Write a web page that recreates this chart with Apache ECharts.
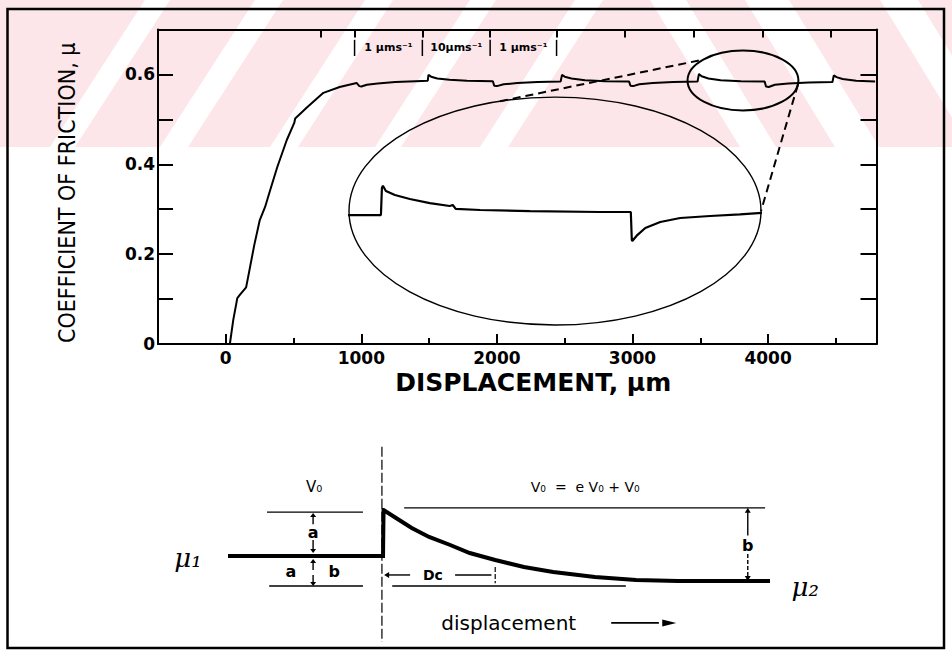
<!DOCTYPE html>
<html>
<head>
<meta charset="utf-8">
<title>Coefficient of friction vs displacement</title>
<script src="https://cdn.jsdelivr.net/npm/echarts@6/dist/echarts.min.js"></script>
<style>
  html, body { margin: 0; padding: 0; background: #fff; }
  #chart { width: 952px; height: 656px; }
</style>
</head>
<body>
<div id="chart"></div>
<script>
// Friction record: run-in followed by velocity steps (displacement in µm)
const displacement = [30, 55, 85, 105, 150, 175, 210, 250, 290, 330, 380, 450, 505, 512, 600, 720, 840, 965,
  985, 1000, 1040, 1120, 1250, 1400, 1490,
  1495, 1515, 1560, 1650, 1780, 1970,
  1980, 2000, 2050, 2150, 2300, 2470,
  2480, 2500, 2550, 2650, 2800, 2975,
  2985, 3005, 3050, 3150, 3300, 3480,
  3490, 3510, 3560, 3650, 3800, 3975,
  3985, 4005, 4050, 4150, 4300, 4475,
  4485, 4505, 4550, 4650, 4790];
const friction = [0.000, 0.053, 0.102, 0.110, 0.126, 0.165, 0.220, 0.275, 0.305, 0.345, 0.394, 0.454, 0.492, 0.502, 0.527, 0.559, 0.572, 0.581,
  0.574, 0.573, 0.577, 0.580, 0.583, 0.585, 0.586,
  0.599, 0.595, 0.591, 0.588, 0.586, 0.585,
  0.575, 0.574, 0.578, 0.581, 0.583, 0.584,
  0.599, 0.595, 0.591, 0.587, 0.585, 0.584,
  0.575, 0.574, 0.578, 0.581, 0.583, 0.584,
  0.601, 0.596, 0.591, 0.587, 0.585, 0.584,
  0.573, 0.572, 0.577, 0.580, 0.582, 0.583,
  0.598, 0.594, 0.590, 0.586, 0.584];

// Magnified segment: 1 -> 10 -> 1 µm/s steps
const zoomDisplacement = [3430, 3496, 3498, 3500, 3506, 3524, 3554, 3594, 3634, 3640, 3646, 3695, 3795, 3935, 3997, 3999, 4000, 4010, 4026, 4056, 4096, 4156, 4216, 4260];
const zoomFriction = [0.581, 0.581, 0.5986, 0.600, 0.5966, 0.594, 0.5914, 0.5888, 0.5869, 0.5875, 0.585, 0.5843, 0.5836, 0.583, 0.583, 0.5648, 0.5642, 0.568, 0.5726, 0.5765, 0.5791, 0.5804, 0.5814, 0.5824];

// Schematic response to a velocity step (arbitrary units: mu2 = 0, peak = 1)
const schemeX = [0, 28.6, 28.7, 31.0, 33.9, 37.1, 41.0, 44.6, 49.3, 54.6, 60.0, 67.7, 75.3, 83.0, 100];
const schemeMu = [0.352, 0.352, 1.0, 0.887, 0.746, 0.620, 0.507, 0.394, 0.296, 0.197, 0.127, 0.056, 0.014, 0, 0];

// Axis ticks and labels
const xTickValues = [0, 1000, 2000, 3000, 4000];
const xTickLabels = ['0', '1000', '2000', '3000', '4000'];
const xMinorTicks = [500, 1500, 2500, 3500, 4500];
const xTopTicks = [700, 950, 1450, 1950, 2440, 2940, 3450, 3960, 4460];
const yTickValues = [0, 0.2, 0.4, 0.6];
const yTickLabels = ['0', '0.2', '0.4', '0.6'];

// Sliding velocity intervals marked above the record
const velocityBounds = [950, 1450, 1950, 2440];
const velocityLabels = ['1 µms⁻¹', '10µms⁻¹', '1 µms⁻¹'];

const BLACK = '#000';
const WIDE = 'DejaVu Sans';
const NARROW = "'Liberation Sans Narrow', 'DejaVu Sans Condensed', 'Liberation Sans', sans-serif";

const chart = echarts.init(document.getElementById('chart'), null, { renderer: 'svg' });

const hiddenAxis = { show: false, axisLine: { show: false }, axisTick: { show: false }, axisLabel: { show: false }, splitLine: { show: false } };
const tickLabelStyle = { color: BLACK, fontFamily: WIDE, fontWeight: 'bold', fontSize: 17 };

chart.setOption({
  animation: false,
  backgroundColor: '#fff',
  grid: [
    { left: 158, top: 29.5, width: 718.5, height: 314.5 },
    { left: 348, top: 147.3, width: 414, height: 130.9 },
    { left: 228, top: 510, width: 542, height: 71 }
  ],
  xAxis: [
    {
      gridIndex: 0, type: 'value', position: 'bottom', min: -500, max: 4800, interval: 500,
      axisLine: { show: true, onZero: false, lineStyle: { color: BLACK, width: 2 } },
      axisTick: { show: true, inside: true, length: 10, customValues: xTickValues, lineStyle: { color: BLACK, width: 2 } },
      axisLabel: {
        show: true, customValues: xTickValues, margin: 5,
        formatter: v => xTickLabels[xTickValues.indexOf(v)], ...tickLabelStyle
      },
      splitLine: { show: false },
      name: 'DISPLACEMENT, µm', nameLocation: 'middle', nameGap: 26,
      nameTextStyle: { color: BLACK, fontFamily: WIDE, fontWeight: 'bold', fontSize: 25, padding: [0, 0, 0, 32] }
    },
    {
      gridIndex: 0, type: 'value', position: 'bottom', min: -500, max: 4800, interval: 500,
      axisLine: { show: false, onZero: false },
      axisTick: { show: true, inside: true, length: 6, customValues: xMinorTicks, lineStyle: { color: BLACK, width: 2 } },
      axisLabel: { show: false }, splitLine: { show: false }
    },
    {
      gridIndex: 0, type: 'value', position: 'top', min: -500, max: 4800, interval: 500,
      axisLine: { show: true, onZero: false, lineStyle: { color: BLACK, width: 2 } },
      axisTick: { show: true, inside: true, length: 8, customValues: xTopTicks, lineStyle: { color: BLACK, width: 2 } },
      axisLabel: { show: false }, splitLine: { show: false }
    },
    { gridIndex: 1, type: 'value', min: 3430, max: 4260, ...hiddenAxis },
    { gridIndex: 2, type: 'value', min: 0, max: 100, ...hiddenAxis }
  ],
  yAxis: [
    {
      gridIndex: 0, type: 'value', position: 'left', min: 0, max: 0.7, interval: 0.1,
      axisLine: { show: true, onZero: false, lineStyle: { color: BLACK, width: 2 } },
      axisTick: { show: true, inside: true, length: 15, lineStyle: { color: BLACK, width: 2 } },
      axisLabel: {
        show: true, customValues: yTickValues, margin: 3,
        formatter: v => yTickLabels[yTickValues.findIndex(t => Math.abs(t - v) < 1e-6)], ...tickLabelStyle
      },
      splitLine: { show: false },
      name: 'COEFFICIENT OF FRICTION, µ', nameLocation: 'middle', nameRotate: 90, nameGap: 80,
      nameTextStyle: { color: BLACK, fontFamily: NARROW, fontSize: 23, padding: [0, 12, 0, 0] }
    },
    {
      gridIndex: 0, type: 'value', position: 'right', min: 0, max: 0.7, interval: 0.1,
      axisLine: { show: true, onZero: false, lineStyle: { color: BLACK, width: 2 } },
      axisTick: { show: true, inside: true, length: 16, lineStyle: { color: BLACK, width: 2 } },
      axisLabel: { show: false }, splitLine: { show: false }
    },
    { gridIndex: 1, type: 'value', min: 0.54, max: 0.625, ...hiddenAxis },
    { gridIndex: 2, type: 'value', min: 0, max: 1, ...hiddenAxis }
  ],
  series: [
    {
      name: 'friction', type: 'line', xAxisIndex: 0, yAxisIndex: 0, symbol: 'none', z: 5,
      data: displacement.map((d, i) => [d, friction[i]]),
      lineStyle: { color: BLACK, width: 2 }
    },
    {
      name: 'magnified', type: 'line', xAxisIndex: 3, yAxisIndex: 2, symbol: 'none', z: 5,
      data: zoomDisplacement.map((d, i) => [d, zoomFriction[i]]),
      lineStyle: { color: BLACK, width: 2.2 }
    },
    {
      name: 'schematic', type: 'line', xAxisIndex: 4, yAxisIndex: 3, symbol: 'none', z: 5,
      data: schemeX.map((d, i) => [d, schemeMu[i]]),
      lineStyle: { color: BLACK, width: 4, join: 'miter' }
    }
  ]
});

// ---- annotations positioned through the axes ----
const MAIN = { xAxisIndex: 0, yAxisIndex: 0 };
const INSET = { xAxisIndex: 3, yAxisIndex: 2 };
const SCH = { xAxisIndex: 4, yAxisIndex: 3 };
const at = (axes, x, y) => chart.convertToPixel(axes, [x, y]);

const g = [];
const line = (p, q, w, dash) => g.push({
  type: 'line', silent: true, z: 6,
  shape: { x1: p[0], y1: p[1], x2: q[0], y2: q[1] },
  style: { stroke: BLACK, lineWidth: w || 1.5, lineDash: dash || null }
});
const text = (p, str, font, opts) => g.push(Object.assign({
  type: 'text', silent: true, z: 6, x: p[0], y: p[1],
  style: { text: str, font: font, fill: BLACK, align: 'center', verticalAlign: 'middle', textAlign: 'center', textVerticalAlign: 'middle' }
}, opts || {}));
const head = (tip, dir, len, half) => {
  // filled arrow head; dir: 'up' | 'down' | 'left' | 'right'
  const [x, y] = tip;
  const pts = {
    up: [[x, y], [x - half, y + len], [x + half, y + len]],
    down: [[x, y], [x - half, y - len], [x + half, y - len]],
    left: [[x, y], [x + len, y - half], [x + len, y + half]],
    right: [[x, y], [x - len, y - half], [x - len, y + half]]
  }[dir];
  g.push({ type: 'polygon', silent: true, z: 6, shape: { points: pts }, style: { fill: BLACK } });
};
const ellipse = (axes, cx, cy, rx, ry, w) => {
  const c = at(axes, cx, cy), e = at(axes, cx + rx, cy + ry);
  g.push({ type: 'ellipse', silent: true, z: 6,
    shape: { cx: c[0], cy: c[1], rx: Math.abs(e[0] - c[0]), ry: Math.abs(e[1] - c[1]) },
    style: { fill: 'none', stroke: BLACK, lineWidth: w } });
  return { cx: c[0], cy: c[1], rx: Math.abs(e[0] - c[0]), ry: Math.abs(e[1] - c[1]) };
};
const onEllipse = (el, deg) => [el.cx + el.rx * Math.cos(deg * Math.PI / 180), el.cy + el.ry * Math.sin(deg * Math.PI / 180)];

// faint striped band behind the upper record
const BAND_H = 147;
g.push({ type: 'rect', silent: true, z: -10, shape: { x: 0, y: 0, width: 952, height: BAND_H }, style: { fill: '#fce6ea' } });
const stripe = pts => g.push({ type: 'polygon', silent: true, z: -9, shape: { points: pts }, style: { fill: '#ffffff' } });
[[50, 25], [160, 28], [270, 28], [375, 26], [480, 28]].forEach(([b, w]) =>
  stripe([[b, BAND_H], [b + w, BAND_H], [b + w + 95, 0], [b + 95, 0]]));
[[650, 36], [745, 44], [880, 38]].forEach(([t, w]) =>
  stripe([[t, 0], [t + w, 0], [t + w + 90, BAND_H], [t + 90, BAND_H]]));

// outer frame
g.push({ type: 'rect', silent: true, z: 6, shape: { x: 7.5, y: 9, width: 936.5, height: 639 }, style: { fill: 'none', stroke: BLACK, lineWidth: 2.5 } });

// velocity intervals
velocityBounds.forEach(b => line(at(MAIN, b, 0.677), at(MAIN, b, 0.641), 1.5));
velocityLabels.forEach((s, i) => {
  const mid = (velocityBounds[i] + velocityBounds[i + 1]) / 2;
  text(at(MAIN, mid, 0.66), s, 'bold 11px DejaVu Sans');
});

// magnifier: small window on the record and its enlarged view
const small = ellipse(MAIN, 3815, 0.5865, 409, 0.0668, 2);
const big = ellipse(INSET, 3845, 0.5836, 413, 0.074, 1.4);
line(onEllipse(big, -105.5), onEllipse(small, -136), 2, [8, 5]);
line(onEllipse(small, 8), onEllipse(big, 0), 2, [8, 5]);

// ---- schematic ----
const S = (u, v) => at(SCH, u, v);
line(S(7.2, 0.97), S(24.9, 0.97), 1.4);
line(S(32.5, 1.03), S(99.1, 1.03), 1.4);
line(S(7.6, -0.07), S(24.9, -0.07), 1.4);
line(S(30.3, -0.07), S(73.4, -0.07), 1.4);
line(S(28.4, 1.89), S(28.4, -0.86), 1.2, [10, 3]);

// a: peak above mu1
line(S(15.7, 0.80), S(15.7, 0.93), 1.4); head(S(15.7, 0.958), 'up', 4, 3);
text(S(15.7, 0.68), 'a', 'bold 16px DejaVu Sans');
line(S(15.7, 0.577), S(15.7, 0.43), 1.4); head(S(15.7, 0.394), 'down', 4, 3);
// a - b
text(S(11.6, 0.127), 'a', 'bold 16px DejaVu Sans');
text(S(19.6, 0.127), 'b', 'bold 16px DejaVu Sans');
line(S(15.7, 0.155), S(15.7, 0.28), 1.4); head(S(15.7, 0.31), 'up', 4, 3);
line(S(15.7, 0.085), S(15.7, -0.03), 1.4); head(S(15.7, -0.07), 'down', 4, 3);
// Dc
head(S(28.8, 0.085), 'left', 5, 3);
line(S(29.5, 0.085), S(33.6, 0.085), 1.4);
text(S(37.8, 0.085), 'Dc', 'bold 14px DejaVu Sans');
line(S(41.9, 0.085), S(48.6, 0.085), 1.4);
line(S(49.3, 0.197), S(49.3, -0.03), 1.2, [5, 2]);
// b: peak above mu2
line(S(95.9, 0.98), S(95.9, 0.64), 1.4); head(S(95.9, 1.03), 'up', 5, 3);
text(S(95.9, 0.507), 'b', 'bold 16px DejaVu Sans');
line(S(95.9, 0.38), S(95.9, 0.06), 1.4, [4, 2]); head(S(95.9, 0), 'down', 5, 3);

// labels
text(S(15.9, 1.32), 'V₀', '15px DejaVu Sans');
text(S(65.9, 1.32), 'V₀  =  e V₀ + V₀', '14px DejaVu Sans');
text(S(-7.4, 0.324), 'μ₁', 'italic 26px DejaVu Serif');
text(S(106.5, -0.085), 'μ₂', 'italic 26px DejaVu Serif');
text(S(51.8, -0.59), 'displacement', '20px DejaVu Sans');
line(S(70.7, -0.59), S(79.5, -0.59), 1.6);
head(S(82.7, -0.59), 'right', 14, 3.5);

chart.setOption({ graphic: { elements: g } });
</script>
</body>
</html>
